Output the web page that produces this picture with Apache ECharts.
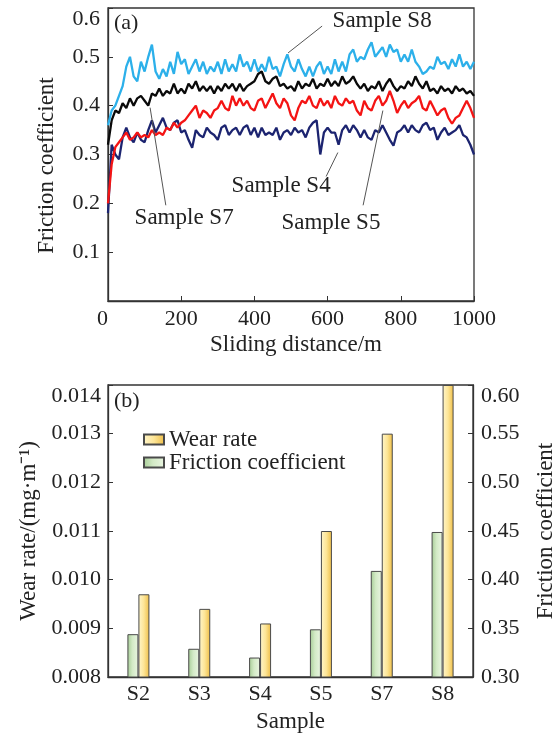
<!DOCTYPE html>
<html>
<head>
<meta charset="utf-8">
<script src="https://cdn.jsdelivr.net/npm/echarts@6/dist/echarts.min.js"></script>
<style>
html,body{margin:0;padding:0;background:#fff;}
#chart{width:555px;height:736px;}
</style>
</head>
<body>
<div id="chart"></div>
<script>
// ---- (a) friction coefficient vs sliding distance ----
const distance = [0,10,20,30,40,50,60,70,80,90,100,110,120,130,140,150,160,170,180,190,200,210,220,230,240,250,260,270,280,290,300,310,320,330,340,350,360,370,380,390,400,410,420,430,440,450,460,470,480,490,500,510,520,530,540,550,560,570,580,590,600,610,620,630,640,650,660,670,680,690,700,710,720,730,740,750,760,770,780,790,800,810,820,830,840,850,860,870,880,890,900,910,920,930,940,950,960,970,980,990,1000];
const sampleS8 = [0.36,0.39,0.40,0.42,0.44,0.48,0.50,0.46,0.45,0.49,
  0.47,0.50,0.525,0.47,0.455,0.475,0.46,0.49,0.465,0.51,
  0.485,0.495,0.465,0.48,0.495,0.47,0.49,0.465,0.48,0.47,
  0.49,0.465,0.495,0.47,0.485,0.47,0.505,0.48,0.49,0.47,
  0.495,0.47,0.485,0.47,0.50,0.475,0.48,0.46,0.485,0.505,
  0.48,0.47,0.495,0.475,0.46,0.48,0.46,0.48,0.49,0.465,
  0.48,0.465,0.495,0.47,0.49,0.47,0.505,0.515,0.49,0.50,
  0.495,0.515,0.53,0.50,0.51,0.52,0.50,0.525,0.51,0.515,
  0.49,0.505,0.49,0.515,0.49,0.48,0.465,0.47,0.48,0.475,
  0.50,0.485,0.49,0.475,0.495,0.48,0.505,0.48,0.49,0.475,
  0.49];
const sampleS7 = [0.32,0.37,0.39,0.385,0.405,0.395,0.415,0.40,0.415,0.42,
  0.41,0.40,0.425,0.42,0.435,0.42,0.43,0.425,0.445,0.425,
  0.435,0.425,0.445,0.435,0.45,0.43,0.44,0.43,0.44,0.425,
  0.44,0.43,0.445,0.435,0.445,0.43,0.445,0.43,0.44,0.445,
  0.45,0.465,0.47,0.45,0.445,0.455,0.46,0.44,0.445,0.435,
  0.44,0.43,0.45,0.435,0.445,0.44,0.455,0.435,0.445,0.44,
  0.455,0.44,0.45,0.44,0.46,0.445,0.45,0.46,0.445,0.435,
  0.445,0.43,0.44,0.435,0.45,0.43,0.445,0.455,0.44,0.43,
  0.44,0.435,0.45,0.44,0.46,0.445,0.435,0.45,0.43,0.435,
  0.425,0.44,0.43,0.435,0.425,0.44,0.43,0.435,0.425,0.43,
  0.42];
const sampleS5 = [0.20,0.28,0.315,0.325,0.335,0.345,0.33,0.335,0.345,0.335,
  0.34,0.335,0.35,0.34,0.345,0.34,0.355,0.35,0.365,0.355,
  0.365,0.37,0.38,0.39,0.40,0.375,0.39,0.385,0.375,0.39,
  0.395,0.41,0.395,0.39,0.42,0.40,0.415,0.40,0.41,0.395,
  0.39,0.41,0.415,0.395,0.41,0.425,0.405,0.395,0.415,0.405,
  0.38,0.37,0.395,0.41,0.405,0.42,0.40,0.395,0.415,0.40,
  0.41,0.395,0.42,0.405,0.40,0.415,0.405,0.41,0.39,0.38,
  0.41,0.395,0.39,0.41,0.42,0.40,0.41,0.43,0.41,0.385,
  0.40,0.41,0.395,0.405,0.41,0.42,0.395,0.39,0.41,0.395,
  0.38,0.39,0.395,0.375,0.363,0.375,0.38,0.395,0.41,0.395,
  0.375];
const sampleS4 = [0.18,0.32,0.30,0.29,0.335,0.355,0.335,0.325,0.345,0.33,
  0.325,0.35,0.37,0.345,0.36,0.375,0.355,0.35,0.365,0.37,
  0.345,0.35,0.33,0.314,0.35,0.34,0.335,0.355,0.345,0.34,
  0.33,0.355,0.36,0.34,0.35,0.355,0.34,0.355,0.36,0.34,
  0.355,0.335,0.355,0.34,0.345,0.34,0.355,0.33,0.345,0.35,
  0.34,0.355,0.345,0.35,0.335,0.355,0.365,0.37,0.30,0.345,
  0.355,0.345,0.345,0.32,0.35,0.36,0.345,0.36,0.35,0.335,
  0.35,0.335,0.33,0.35,0.345,0.36,0.345,0.33,0.318,0.345,
  0.35,0.36,0.345,0.36,0.35,0.345,0.36,0.365,0.35,0.355,
  0.33,0.345,0.355,0.34,0.345,0.35,0.36,0.34,0.335,0.32,
  0.30];

// annotation texts with leader lines (data coordinates)
const annotations = [
  {text: 'Sample S8', at: [749, 0.573], from: [585, 0.563], to: [492, 0.508]},
  {text: 'Sample S7', at: [208, 0.171], from: [158, 0.196], to: [115, 0.396]},
  {text: 'Sample S4', at: [473, 0.235], from: [596, 0.255], to: [628, 0.304]},
  {text: 'Sample S5', at: [609, 0.159], from: [697, 0.196], to: [751, 0.390]}
];

// ---- (b) wear rate and friction coefficient per sample ----
const samples = ['S2', 'S3', 'S4', 'S5', 'S7', 'S8'];
const wearRate = [0.0097, 0.0094, 0.0091, 0.0110, 0.0130, 0.0140];
const frictionCoef = [0.344, 0.329, 0.320, 0.349, 0.409, 0.449];

const FONT = '"Liberation Serif", "Times New Roman", serif';
const TXT = '#222';
const AX = '#333';
const TICK = 22, NAME = 23;

const chart = echarts.init(document.getElementById('chart'), null, {renderer: 'canvas'});

const pair = arr => distance.map((d, i) => [d, arr[i]]);

const lineSeries = (name, data, color, ann) => {
  const s = {
    name, type: 'line', xAxisIndex: 0, yAxisIndex: 0,
    data: pair(data), showSymbol: false, symbol: 'none',
    lineStyle: {color, width: 2.3}, itemStyle: {color},
    animation: false, silent: true
  };
  if (ann) {
    s.markLine = {
      silent: true, symbol: 'none', animation: false,
      lineStyle: {color: '#555', width: 1, type: 'solid'},
      label: {show: false},
      data: [[{coord: ann.from}, {coord: ann.to}]]
    };
    s.markPoint = {
      silent: true, animation: false, symbol: 'circle', symbolSize: 0,
      label: {show: true, position: 'inside', formatter: ann.text,
        color: TXT, fontFamily: FONT, fontSize: 23},
      data: [{coord: ann.at}]
    };
  }
  return s;
};
const annBy = t => annotations.find(a => a.text === t);

const option = {
  backgroundColor: '#fff',
  animation: false,
  textStyle: {fontFamily: FONT, color: TXT},
  title: [
    {text: '(a)', left: 114, top: 12, textStyle: {fontFamily: FONT, fontSize: 22, fontWeight: 'normal', color: TXT}, padding: 0},
    {text: '(b)', left: 114, top: 390, textStyle: {fontFamily: FONT, fontSize: 22, fontWeight: 'normal', color: TXT}, padding: 0}
  ],
  legend: {
    data: ['Wear rate', 'Friction coefficient'],
    orient: 'vertical', left: 138, top: 423,
    itemWidth: 20, itemHeight: 10, itemGap: 0,
    icon: 'rect',
    textStyle: {fontFamily: FONT, fontSize: 23, color: TXT, lineHeight: 21},
    selectedMode: false
  },
  grid: [
    {left: 108, right: 81, top: 8, bottom: 435, show: true, borderColor: AX, borderWidth: 1.3,
      outerBoundsMode: 'none', containLabel: false},
    {left: 108, right: 82, top: 385, bottom: 59, show: true, borderColor: AX, borderWidth: 1.3,
      outerBoundsMode: 'none', containLabel: false}
  ],
  xAxis: [
    {
      type: 'value', gridIndex: 0, min: 0, max: 1000, interval: 200,
      name: 'Sliding distance/m', nameLocation: 'middle', nameGap: 32,
      nameTextStyle: {fontFamily: FONT, fontSize: NAME, color: TXT, padding: [0, 0, 0, 10]},
      axisLine: {lineStyle: {color: AX, width: 1.3}},
      axisTick: {inside: true, length: 5, lineStyle: {color: AX}},
      axisLabel: {fontFamily: FONT, fontSize: TICK, color: TXT, margin: 7, alignMinLabel: 'right',
        formatter: v => String(v)},
      splitLine: {show: false}
    },
    {
      type: 'category', gridIndex: 1, data: samples,
      name: 'Sample', nameLocation: 'middle', nameGap: 33,
      nameTextStyle: {fontFamily: FONT, fontSize: NAME, color: TXT},
      axisLine: {lineStyle: {color: AX, width: 1.3}},
      axisTick: {show: false},
      axisLabel: {fontFamily: FONT, fontSize: TICK, color: TXT, margin: 6},
      splitLine: {show: false}
    }
  ],
  yAxis: [
    {
      type: 'value', gridIndex: 0, min: 0, max: 0.6, interval: 0.1,
      name: 'Friction coefficient', nameLocation: 'middle', nameGap: 50, nameRotate: 90,
      nameTextStyle: {fontFamily: FONT, fontSize: NAME, color: TXT, padding: [0, 22, 0, 0]},
      axisLine: {show: true, lineStyle: {color: AX, width: 1.3}},
      axisTick: {show: true, inside: true, length: 5, lineStyle: {color: AX}},
      axisLabel: {fontFamily: FONT, fontSize: TICK, color: TXT, margin: 8, verticalAlignMaxLabel: 'top',
        formatter: v => (v === 0 ? '' : v.toFixed(1))},
      splitLine: {show: false}
    },
    {
      type: 'value', gridIndex: 1, min: 0.008, max: 0.014, interval: 0.001,
      name: 'Wear rate/(mg·m⁻¹)', nameLocation: 'middle', nameGap: 66, nameRotate: 90,
      nameTextStyle: {fontFamily: FONT, fontSize: NAME, color: TXT},
      axisLine: {show: true, lineStyle: {color: AX, width: 1.3}},
      axisTick: {show: true, inside: true, length: 5, lineStyle: {color: AX}},
      axisLabel: {fontFamily: FONT, fontSize: TICK, color: TXT, margin: 7, verticalAlignMaxLabel: 'top',
        formatter: v => v.toFixed(3)},
      splitLine: {show: false}
    },
    {
      type: 'value', gridIndex: 1, position: 'right', min: 0.30, max: 0.60, interval: 0.05,
      name: 'Friction coefficient', nameLocation: 'middle', nameGap: 61, nameRotate: 90,
      nameTextStyle: {fontFamily: FONT, fontSize: NAME, color: TXT},
      axisLine: {show: true, lineStyle: {color: AX, width: 1.3}},
      axisTick: {show: true, inside: true, length: 5, lineStyle: {color: AX}},
      axisLabel: {fontFamily: FONT, fontSize: TICK, color: TXT, margin: 8, verticalAlignMaxLabel: 'top',
        formatter: v => v.toFixed(2)},
      splitLine: {show: false}
    }
  ],
  series: [
    lineSeries('Sample S4', sampleS4, '#1c2470', annBy('Sample S4')),
    lineSeries('Sample S5', sampleS5, '#f41414', annBy('Sample S5')),
    lineSeries('Sample S7', sampleS7, '#0a0a0a', annBy('Sample S7')),
    lineSeries('Sample S8', sampleS8, '#2cb0ea', annBy('Sample S8')),
    {
      name: 'Friction coefficient', type: 'bar', xAxisIndex: 1, yAxisIndex: 2,
      data: frictionCoef, barWidth: 11, barGap: '0%',
      itemStyle: {
        color: new echarts.graphic.LinearGradient(0, 0, 1, 0, [
          {offset: 0, color: '#a6cc96'}, {offset: 0.45, color: '#d3eac6'}, {offset: 1, color: '#eaf5e2'}
        ]),
        borderColor: '#4a4a4a', borderWidth: 1
      }
    },
    {
      name: 'Wear rate', type: 'bar', xAxisIndex: 1, yAxisIndex: 1,
      data: wearRate, barWidth: 11, barGap: '0%',
      itemStyle: {
        color: new echarts.graphic.LinearGradient(0, 0, 1, 0, [
          {offset: 0, color: '#fff6cc'}, {offset: 0.5, color: '#fde596'}, {offset: 1, color: '#eebd45'}
        ]),
        borderColor: '#4a4a4a', borderWidth: 1
      }
    }
  ]
};
chart.setOption(option);
</script>
</body>
</html>
